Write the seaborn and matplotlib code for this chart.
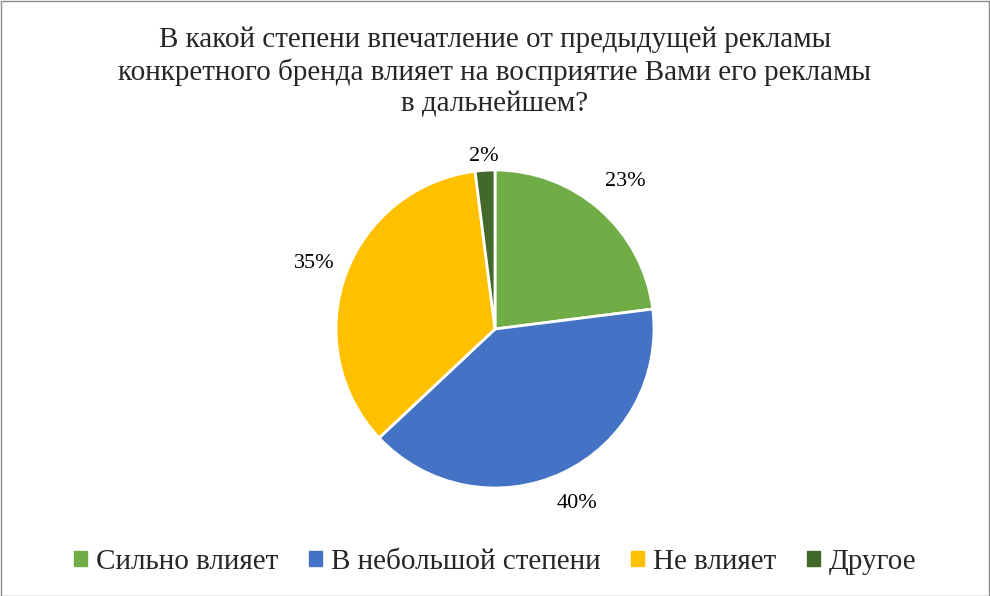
import matplotlib
matplotlib.use("Agg")
import matplotlib.pyplot as plt
import seaborn as sns
import numpy as np
from matplotlib.patches import Rectangle

categories = ["Сильно влияет", "В небольшой степени", "Не влияет", "Другое"]
values = [23, 40, 35, 2]
colors = ["#70AD47", "#4472C4", "#FFC000", "#43682B"]
title = ("В какой степени впечатление от предыдущей рекламы\n"
         "конкретного бренда влияет на восприятие Вами его рекламы\n"
         "в дальнейшем?")
label_dist = [1.24, 1.21, 1.21, 1.09]

sns.set_theme(style="white")
plt.rcParams['font.family'] = ['Liberation Serif', 'DejaVu Serif']

W, H = 990, 596
fig = plt.figure(figsize=(W / 100, H / 100), dpi=100)
fig.patch.set_facecolor("white")

cx, cy, r = 495, 329, 159
ax = fig.add_axes([(cx - r) / W, 1 - (cy + r) / H, 2 * r / W, 2 * r / H])
palette = sns.color_palette(colors)
wedges, _ = ax.pie(values, colors=palette, startangle=90, counterclock=False,
                   wedgeprops=dict(edgecolor="white", linewidth=2))
for w, v, d in zip(wedges, values, label_dist):
    ang = np.deg2rad((w.theta1 + w.theta2) / 2)
    ax.text(d * np.cos(ang), d * np.sin(ang), f"{v}%", ha="center", va="center",
            fontsize=16, color="black")
ax.set_xlim(-1, 1)
ax.set_ylim(-1, 1)
ax.set_aspect("equal")
ax.axis("off")

fig.text(0.5, 1 - 72 / H, title, ha="center", va="center", fontsize=21,
         linespacing=1.25)

handles = [plt.Rectangle((0, 0), 1, 1, color=c) for c in palette]
fig.legend(handles, categories, loc="center", bbox_to_anchor=(0.5, 1 - 562 / H),
           ncol=4, frameon=False, fontsize=21, handlelength=0.45, handleheight=0.45,
           handletextpad=0.3, columnspacing=1.05)

fig.patches.append(Rectangle((0.5 / W, 0.5 / H), 1 - 1.5 / W, 1 - 1.5 / H,
                             transform=fig.transFigure, fill=False,
                             edgecolor="#8C8C8C", linewidth=1))

fig.savefig("out.png", dpi=100, facecolor="white")
